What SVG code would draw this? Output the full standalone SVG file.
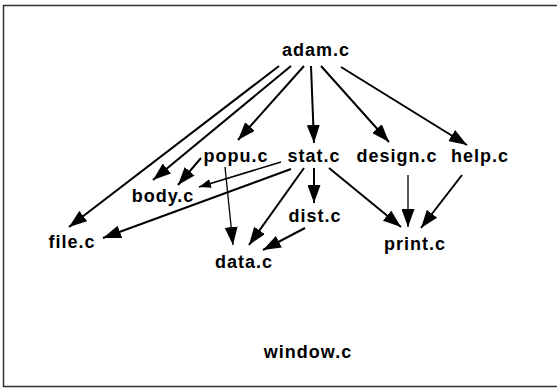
<svg xmlns="http://www.w3.org/2000/svg" width="557" height="389" viewBox="0 0 557 389">
<style>
text{font-family:"Liberation Sans",Arial,sans-serif;font-size:18px;font-weight:bold;letter-spacing:1px;fill:#000;text-anchor:middle}
.e{stroke:#000;stroke-width:2;fill:none;marker-end:url(#ah)}
.t{stroke:#000;stroke-width:1.3;fill:none;marker-end:url(#ah)}
.s{stroke:#000;stroke-width:1.6;fill:none;marker-end:url(#ahs)}
</style>
<defs>
<marker id="ah" markerUnits="userSpaceOnUse" viewBox="0 0 18 13" refX="18" refY="6.5" markerWidth="18" markerHeight="13" orient="auto"><path d="M0,0 L18,6.5 L0,13 Z" fill="#000"/></marker>
<marker id="ahs" markerUnits="userSpaceOnUse" viewBox="0 0 12 9" refX="12" refY="4.5" markerWidth="12" markerHeight="9" orient="auto"><path d="M0,0 L12,4.5 L0,9 Z" fill="#000"/></marker>
</defs>
<rect x="3.5" y="5.5" width="570" height="381" fill="#fff" stroke="#333" stroke-width="1.5"/>
<g id="connectors">
<line class="e" x1="279" y1="66" x2="69" y2="227"/>
<line class="e" x1="291" y1="66" x2="153" y2="180"/>
<line class="e" x1="304" y1="66" x2="238" y2="140"/>
<line class="e" x1="311" y1="66" x2="314" y2="143"/>
<line class="e" x1="321" y1="66" x2="389" y2="142"/>
<line class="e" x1="341" y1="67" x2="467" y2="145"/>
<line class="e" x1="201" y1="158" x2="178" y2="185"/>
<line class="t" x1="225" y1="167" x2="233" y2="245"/>
<line class="s" x1="281" y1="162" x2="199" y2="187"/>
<line class="e" x1="291" y1="169" x2="103" y2="238"/>
<line class="e" x1="304" y1="168" x2="249" y2="245"/>
<line class="e" x1="314" y1="168" x2="314" y2="203"/>
<line class="e" x1="329" y1="168" x2="401" y2="227"/>
<line class="e" x1="305" y1="228" x2="263" y2="250"/>
<line class="t" x1="408" y1="175" x2="408" y2="227"/>
<line class="e" x1="462" y1="175" x2="421" y2="228"/>
</g>
<g id="adam"><text x="316" y="56">adam.c</text></g>
<g id="popu"><text x="236" y="162">popu.c</text></g>
<g id="stat"><text x="314" y="162">stat.c</text></g>
<g id="design"><text x="397" y="162">design.c</text></g>
<g id="help"><text x="480" y="162">help.c</text></g>
<g id="body"><text x="163" y="202">body.c</text></g>
<g id="dist"><text x="315" y="222">dist.c</text></g>
<g id="file"><text x="72" y="248">file.c</text></g>
<g id="print"><text x="415" y="250">print.c</text></g>
<g id="data"><text x="244" y="268">data.c</text></g>
<g id="window"><text x="308" y="358">window.c</text></g>
</svg>
